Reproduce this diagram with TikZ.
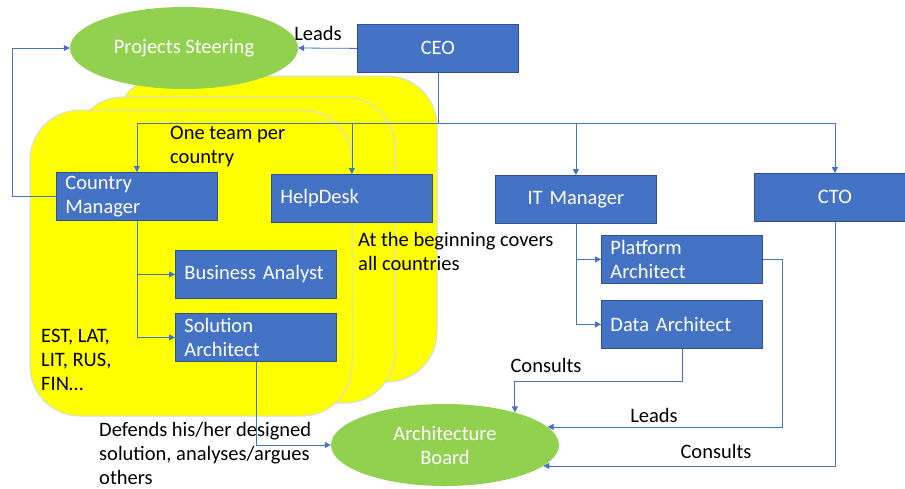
\documentclass[tikz,border=0pt]{standalone}
\usepackage{fontspec}
\setmainfont{Carlito}
\usetikzlibrary{arrows.meta,shapes.geometric}
\definecolor{boxblue}{HTML}{4472C4}
\definecolor{boxedge}{HTML}{2F528F}
\definecolor{leafgreen}{HTML}{92D050}
\definecolor{wire}{HTML}{4472C4}
\definecolor{teamyellow}{HTML}{FFFF00}
\definecolor{teamedge}{HTML}{D3DBEA}
\newcommand{\diagfont}{\fontsize{20.5}{24}\selectfont}
\tikzset{
  box/.style={draw=boxedge, line width=0.8pt, fill=boxblue, text=white,
    inner xsep=9pt, inner ysep=0pt, text width=143pt, minimum height=48pt,
    align=left, anchor=north west, font=\diagfont},
  cbox/.style={box, align=center},
  oval/.style={ellipse, fill=leafgreen, text=white, inner sep=0pt,
    minimum width=228pt, minimum height=82pt, align=center, font=\diagfont},
  team/.style={fill=teamyellow, draw=teamedge, line width=1pt, rounded corners=50pt},
  note/.style={inner sep=0pt, align=left, anchor=north west, font=\diagfont},
  lbl/.style={inner sep=0pt, font=\diagfont},
  conn/.style={draw=wire, line width=0.8pt},
  arr/.style={conn, -{Triangle[length=6pt,width=6pt]}},
}
\begin{document}
\begin{tikzpicture}[x=1pt,y=-1pt]
\useasboundingbox (0,0) rectangle (905,488);
\fill[white] (0,0) rectangle (905,488);

% stacked country teams
\draw[team] (115,76) rectangle (437,382);
\draw[team] (73,97) rectangle (395,403);
\draw[team] (30,110) rectangle (352,416);

% ovals
\node[oval] (ps) at (184,48) {Projects Steering};
\node[oval] (ab) at (445,445) {Architecture\\Board};

% boxes
\node[cbox] (ceo) at (357,24) {CEO};
\node[box]  (cm)  at (56,172) {Country\\Manager};
\node[box]  (hd)  at (271,174) {HelpDesk};
\node[cbox] (it)  at (495,175) {IT Manager};
\node[cbox] (cto) at (754,173) {CTO};
\node[box]  (ba)  at (175,250) {Business Analyst};
\node[box]  (sa)  at (175,313) {Solution\\Architect};
\node[box]  (pa)  at (601,235) {Platform\\Architect};
\node[box]  (da)  at (601,300) {Data Architect};

% texts
\node[note] (t1) at (170,126) {One team per\\country};
\node[note] (t2) at (358,232) {At the beginning covers\\all countries};
\node[note] (t3) at (41,329) {EST, LAT,\\LIT, RUS,\\FIN…};
\node[note] (t4) at (99,422) {Defends his/her designed\\solution, analyses/argues\\others};
\node[lbl] (l1) at (318,33) {Leads};
\node[lbl] (l2) at (546,365) {Consults};
\node[lbl] (l3) at (654,415) {Leads};
\node[lbl] (l4) at (716,451) {Consults};

% connectors
\draw[arr] (ceo.west) -- (ps.east);
\draw[conn] (ceo.south) -- ++(0,51) coordinate (bus);
\draw[arr] (bus) -| (cm.north);
\draw[arr] (bus) -| (hd.north);
\draw[arr] (bus) -| (it.north);
\draw[arr] (bus) -| (cto.north);
\draw[arr] (cm.west) -- ++(-44,0) |- (ps.west);
\draw[arr] (cm.south) |- (ba.west);
\draw[arr] (cm.south) |- (sa.west);
\draw[arr] (it.south) |- (pa.west);
\draw[arr] (it.south) |- (da.west);
\draw[arr] (sa.south) |- (ab.west);
\draw[arr] (da.south) -- ++(0,33) -| (ab.25);
\draw[arr] (pa.east) -- ++(20,0) |- (ab.10.7);
\draw[arr] (cto.south) |- (ab.-12.9);
\end{tikzpicture}
\end{document}
